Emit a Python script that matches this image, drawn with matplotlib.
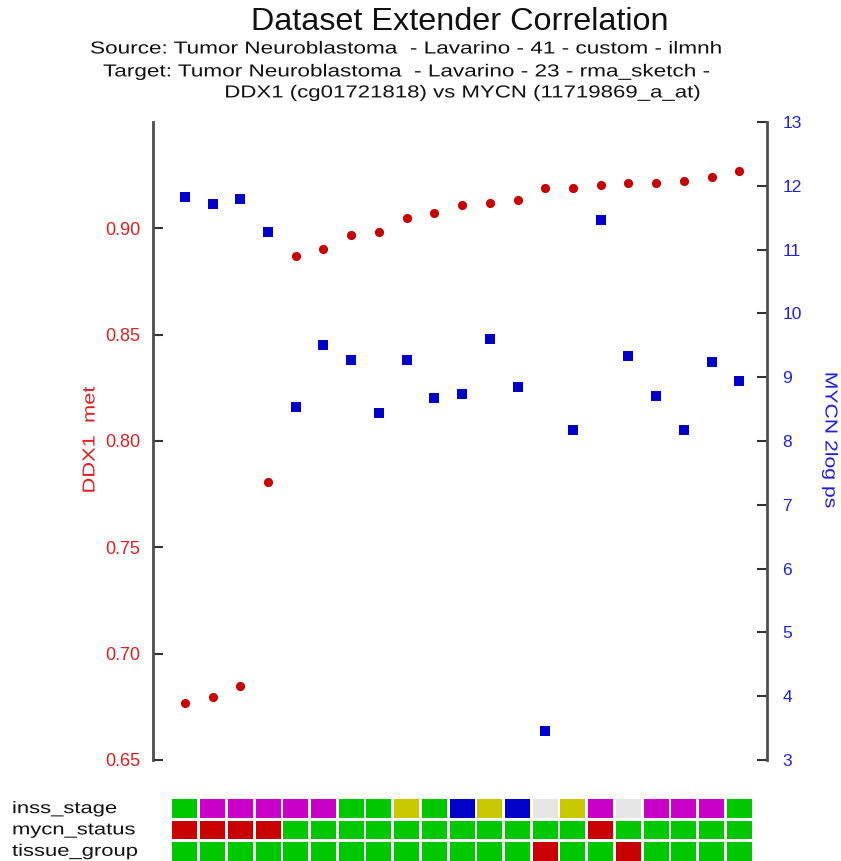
import matplotlib
matplotlib.use("Agg")
import matplotlib.pyplot as plt
from matplotlib.patches import Rectangle
from matplotlib import patheffects
from matplotlib.transforms import Affine2D

plt.rcParams['font.family'] = ['Liberation Sans', 'DejaVu Sans']

# DDX1 methylation (left axis) and MYCN expression (right axis), per sample
ddx1_met = [0.6768, 0.6798, 0.6848, 0.7808, 0.8870, 0.8901, 0.8968, 0.8981,
            0.9050, 0.9072, 0.9112, 0.9120, 0.9132, 0.9191, 0.9191, 0.9204,
            0.9213, 0.9213, 0.9222, 0.9243, 0.9271]
mycn_expr = [11.83, 11.71, 11.80, 11.28, 8.54, 9.51, 9.27, 8.44, 9.27, 8.68,
             8.74, 9.60, 8.84, 3.45, 8.17, 11.47, 9.33, 8.71, 8.17, 9.24, 8.94]

left_ticks = [0.65, 0.70, 0.75, 0.80, 0.85, 0.90]
right_ticks = [3, 4, 5, 6, 7, 8, 9, 10, 11, 12, 13]

# Sample annotation tracks
track_names = ["inss_stage", "mycn_status", "tissue_group"]
inss_stage = ["4", "st4s", "st4s", "st4s", "st4s", "st4s", "4", "4", "2", "4", "1",
              "2", "1", "na", "2", "st4s", "na", "st4s", "st4s", "st4s", "4"]
mycn_status = ["amp", "amp", "amp", "amp", "non", "non", "non", "non", "non", "non", "non",
               "non", "non", "non", "non", "amp", "non", "non", "non", "non", "non"]
tissue_group = ["t", "t", "t", "t", "t", "t", "t", "t", "t", "t", "t",
                "t", "t", "n", "t", "t", "n", "t", "t", "t", "t"]

track_colors = {
    "inss_stage": {"4": "#00c800", "st4s": "#c800c8", "2": "#c8c800",
                   "1": "#0000c8", "na": "#e6e6e6"},
    "mycn_status": {"amp": "#c80000", "non": "#00c800"},
    "tissue_group": {"t": "#00c800", "n": "#c80000"},
}
tracks = [inss_stage, mycn_status, tissue_group]


class WideText(patheffects.AbstractPathEffect):
    """Draw text glyphs widened along the baseline by a fixed factor."""

    def __init__(self, sx, anchor="left"):
        super().__init__()
        self.sx = sx
        self.anchor = anchor

    def draw_path(self, renderer, gc, tpath, affine, rgbFace=None):
        v = tpath.vertices
        if len(v):
            x0, x1 = v[:, 0].min(), v[:, 0].max()
        else:
            x0 = x1 = 0.0
        c = (x0 + x1) / 2 if self.anchor == "center" else x0
        pre = Affine2D().translate(-c, 0).scale(self.sx, 1).translate(c, 0)
        renderer.draw_path(gc, tpath, pre + affine, rgbFace)


W, H = 841, 861
fig = plt.figure(figsize=(W / 100, H / 100), dpi=100)

def fx(px):
    return px / W

def fy(py):
    return 1 - py / H

ax_l, ax_r, ax_t, ax_b = 153, 767, 122, 760
ax = fig.add_axes([fx(ax_l), fy(ax_b), fx(ax_r) - fx(ax_l), fy(ax_t) - fy(ax_b)])
ax2 = ax.twinx()

xs = list(range(len(ddx1_met)))
xlim = (-1.15, 21.0)

ax2.plot(xs, mycn_expr, linestyle='none', marker='s', markersize=7.2,
         color='#0000c8', markeredgewidth=0)
ax.plot(xs, ddx1_met, linestyle='none', marker='o', markersize=6.6,
        color='#c80000', markeredgewidth=0, zorder=3)
ax.set_zorder(ax2.get_zorder() + 1)
ax.patch.set_visible(False)

ax.set_xlim(*xlim)
ax.set_ylim(0.65, 0.95)
ax2.set_ylim(3, 13)
ax.set_yticks(left_ticks)
ax.set_yticklabels([f"{v:.2f}" for v in left_ticks])
ax2.set_yticks(right_ticks)
ax2.set_yticklabels([str(v) for v in right_ticks])
ax.set_xticks([])

spine_col = '#4d4d4d'
for a in (ax, ax2):
    for s in ('top', 'bottom'):
        a.spines[s].set_visible(False)
ax.spines['right'].set_visible(False)
ax2.spines['left'].set_visible(False)
ax.spines['left'].set_color(spine_col)
ax.spines['left'].set_linewidth(2)
ax2.spines['right'].set_color(spine_col)
ax2.spines['right'].set_linewidth(2)

ax.tick_params(axis='y', direction='in', length=7, width=1.5, color='#333333',
               labelcolor='#e02020', labelsize=13, pad=9)
ax2.tick_params(axis='y', direction='in', length=7, width=1.5, color='#333333',
                labelcolor='#2020e0', labelsize=12.5, pad=11)

# Axis titles
fig.text(fx(90), fy(440), "DDX1  met", color='#e02020', fontsize=12.5,
         rotation=90, ha='center', va='center',
         path_effects=[WideText(1.26, "center")])
fig.text(fx(830), fy(440), "MYCN 2log ps", color='#2020e0', fontsize=12.5,
         rotation=-90, ha='center', va='center',
         path_effects=[WideText(1.22, "center")])

# Titles
fig.text(fx(460), fy(22), "Dataset Extender Correlation", ha='center', va='center',
         fontsize=23.3, color='#111111')
sub_fx = [WideText(1.3, "left")]
fig.text(fx(90), fy(49), "Source: Tumor Neuroblastoma  - Lavarino - 41 - custom - ilmnh",
         ha='left', va='center', fontsize=12.5, color='#111111', path_effects=sub_fx)
fig.text(fx(103), fy(72), "Target: Tumor Neuroblastoma  - Lavarino - 23 - rma_sketch - ",
         ha='left', va='center', fontsize=12.5, color='#111111', path_effects=sub_fx)
fig.text(fx(463), fy(93), "DDX1 (cg01721818) vs MYCN (11719869_a_at)",
         ha='center', va='center', fontsize=12.5, color='#111111',
         path_effects=[WideText(1.28, "center")])

# Annotation tracks below the plot
gtop, gbot = 798, 861
gax = fig.add_axes([fx(ax_l), fy(gbot), fx(ax_r) - fx(ax_l), fy(gtop) - fy(gbot)])
gax.set_xlim(*xlim)
gax.set_ylim(2.95, 0)
gax.axis('off')
lab_fx = [WideText(1.32, "left")]
for r, (name, vals) in enumerate(zip(track_names, tracks)):
    for i, v in enumerate(vals):
        gax.add_patch(Rectangle((i - 0.45, r + 0.06), 0.9, 0.88,
                                facecolor=track_colors[name][v], edgecolor='none'))
    fig.text(fx(12), fy(gtop + (r + 0.5) * (gbot - gtop) / 2.95), name,
             ha='left', va='center', fontsize=12, color='#111111', path_effects=lab_fx)

fig.savefig("out.png", dpi=100)
